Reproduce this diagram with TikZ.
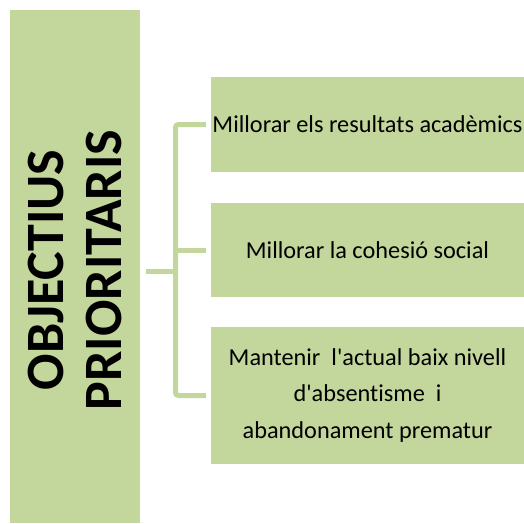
\documentclass[tikz,border=0pt]{standalone}
\usepackage{fontspec}
\setmainfont{Carlito}[Ligatures={TeXOff,NoCommon}]
\usepackage{tikz}
\usetikzlibrary{positioning}
\definecolor{olivelight}{HTML}{C3D69B}
\tikzset{
    title box/.style={
            fill=olivelight, inner sep=0pt,
            minimum width=130pt, minimum height=513pt
        },
    goal box/.style={
            fill=olivelight, inner sep=0pt, minimum width=313pt,
            font=\fontsize{24.3}{36.5}\selectfont, align=center
        },
    bracket line/.style={
            draw=olivelight, line width=5pt, rounded corners=3pt
        },
}

\begin{document}
\begin{tikzpicture}[x=1pt, y=-1pt]
        \useasboundingbox (0, 0) rectangle (524, 523);
        %draw title box
        \node[title box] (title) at (75, 266.5) {\rotatebox{90}{\fontsize{54}{58}\selectfont\bfseries
                \hspace{-7pt}\raisebox{-6pt}[\height][\depth]{\begin{tabular}{@{}c@{}}OBJECTIUS\\PRIORITARIS\end{tabular}}}};
        %draw goal boxes
        \node[goal box, minimum height=95pt] (goal1) at (367.5, 124.5) {Millorar els resultats acadèmics};
        \node[goal box, minimum height=94pt] (goal2) at (367.5, 250) {Millorar la cohesió social};
        \node[goal box, minimum height=137pt] (goal3) at (367.5, 395.5) {Mantenir\ \ l'actual baix nivell\\d'absentisme\ \ i\\abandonament prematur};
        %draw bracket
        \coordinate (fork) at (175.5, 271);
        \draw[bracket line] ([xshift=6pt]title.east |- fork) -- (fork);
        \draw[bracket line] ([xshift=-5pt]goal1.west) -| (fork) |- ([xshift=-5pt]goal3.west);
        \draw[bracket line] (fork |- goal2.west) -- ([xshift=-5pt]goal2.west);
    \end{tikzpicture}
\end{document}
